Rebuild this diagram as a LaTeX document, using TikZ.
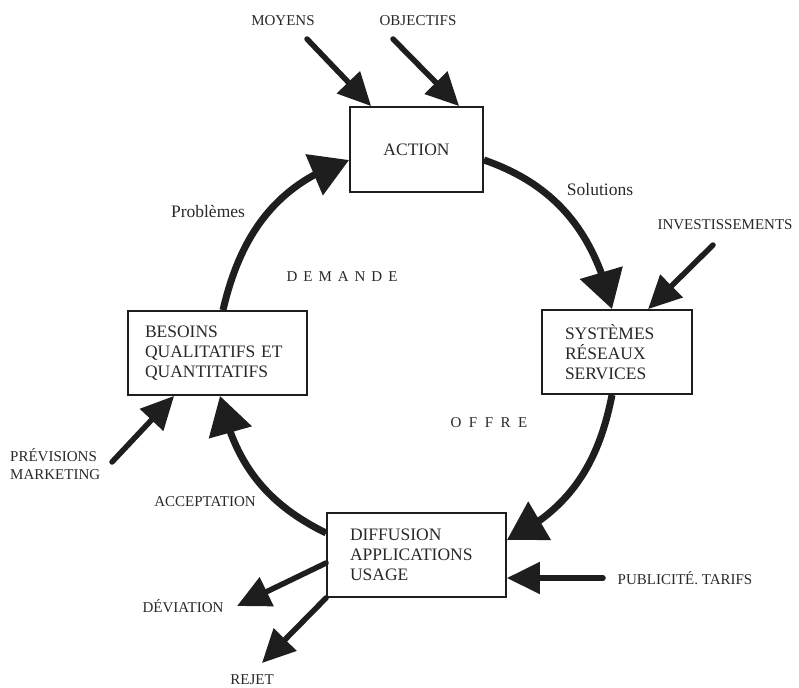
\documentclass[tikz,border=0pt]{standalone}
\usepackage{fontspec}
\setmainfont{Liberation Serif}
\usetikzlibrary{arrows.meta,bending}
\definecolor{ink}{RGB}{30,30,30}
\definecolor{txt}{RGB}{40,40,40}
\begin{document}
\begin{tikzpicture}[x=1pt,y=1pt,
  stage/.style={draw=ink, line width=1.8pt, rectangle, minimum height=84pt,
    font=\fontsize{17.5}{20}\selectfont, text=txt, align=left, inner ysep=0pt},
  lbl/.style={font=\fontsize{15}{18}\selectfont, text=txt, inner sep=0pt},
  lowlbl/.style={font=\fontsize{17.5}{20}\selectfont, text=txt, inner sep=0pt},
  cyclearrow/.style={draw=ink, line width=7pt, -{Triangle[length=38pt,width=43pt]}},
  feed/.style={draw=ink, line width=5.5pt, line cap=round, -{Triangle[length=33pt,width=31pt]}}
]
\useasboundingbox (0,0) rectangle (799,-687);

% the four stages of the cycle
\node[stage, minimum width=133pt, minimum height=85pt, align=center] (action) at (416.5,-149.5) {ACTION};
\node[stage, text width=104pt, inner xsep=23pt] (sys) at (617,-352) {SYSTÈMES\\RÉSEAUX\\SERVICES};
\node[stage, text width=145pt, inner xsep=17pt] (besoins) at (217.5,-353) {BESOINS\\QUALITATIFS ET\\QUANTITATIFS};
\node[stage, text width=133pt, inner xsep=23pt] (diffusion) at (416.5,-555) {DIFFUSION\\APPLICATIONS\\USAGE};

% the cycle itself
\draw[cyclearrow] ([xshift=5.5pt]besoins.north) to[out=77,in=198] ([yshift=-10.5pt]action.west);
\draw[cyclearrow] ([yshift=-10.5pt]action.east) to[out=-19,in=103] ([xshift=-5pt]sys.north);
\draw[cyclearrow] ([xshift=-5pt]sys.south) to[out=-101,in=26] ([yshift=15pt]diffusion.east);
\draw[cyclearrow] ([yshift=22pt]diffusion.west) to[out=154,in=-78] ([xshift=2.5pt]besoins.south);

% external inputs and outputs
\coordinate (moyT) at (307,-39);
\coordinate (objT) at (393,-39);
\coordinate (invT) at (713,-245);
\coordinate (prevT) at (112,-462);
\coordinate (pubT) at (603,-578);
\coordinate (devT) at (237,-606);
\coordinate (rejT) at (262,-663);

\draw[feed] (moyT) -- ([xshift=22pt]action.north west);
\draw[feed] (objT) -- ([xshift=110pt]action.north west);
\draw[feed] (invT) -- ([xshift=107pt]sys.north west);
\draw[feed] (prevT) -- ([xshift=47pt]besoins.south west);
\draw[feed] (pubT) -- ([yshift=-23pt]diffusion.east);
\draw[feed] ([yshift=-8pt]diffusion.west) -- (devT);
\draw[feed] (diffusion.south west) -- (rejT);

% labels
\node[lbl] (moyens) at (283,-21) {MOYENS};
\node[lbl] (objectifs) at (418,-21) {OBJECTIFS};
\node[lbl] (invest) at (725,-225) {INVESTISSEMENTS};
\node[lowlbl] (solutions) at (600,-190) {Solutions};
\node[lowlbl] (problemes) at (208,-211) {Problèmes};
\node[lbl] (demande) at (342,-277) {D\hspace{6pt}E\hspace{6pt}M\hspace{6pt}A\hspace{6pt}N\hspace{6pt}D\hspace{6pt}E};
\node[lbl] (offre) at (489,-423) {O\hspace{7.5pt}F\hspace{7.5pt}F\hspace{7.5pt}R\hspace{7.5pt}E};
\node[lbl, anchor=west, align=left] (prev) at (10,-464) {PRÉVISIONS\\MARKETING};
\node[lbl] (accept) at (205,-502) {ACCEPTATION};
\node[lbl] (deviation) at (183,-606) {DÉVIATION};
\node[lbl] (rejet) at (252,-680) {REJET};
\node[lbl] (pub) at (685,-578) {PUBLICITÉ. TARIFS};
\end{tikzpicture}
\end{document}
